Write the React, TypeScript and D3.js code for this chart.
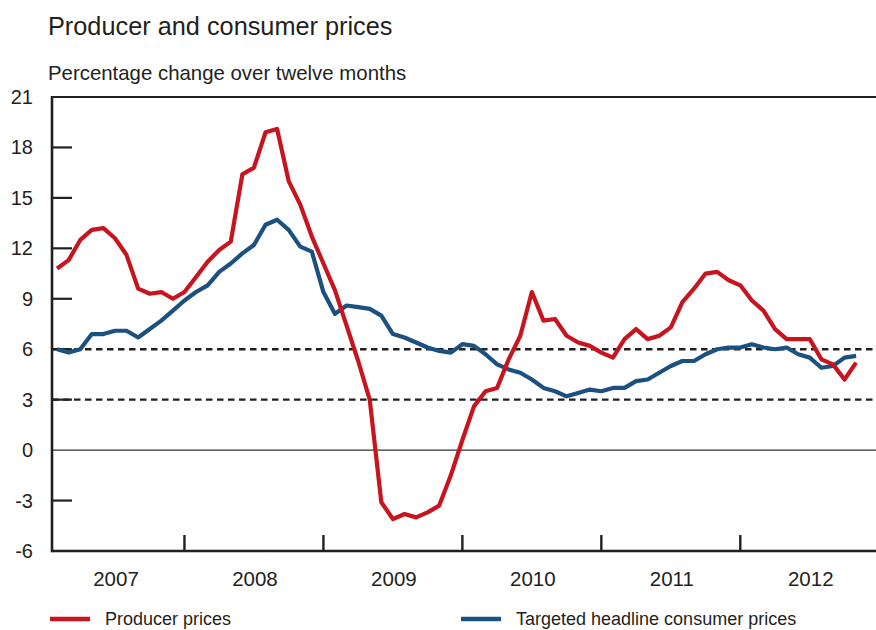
import React from "react";
import * as d3 from "d3";

const title = "Producer and consumer prices";
const subtitle = "Percentage change over twelve months";
const years = ["2007", "2008", "2009", "2010", "2011", "2012"];
const yTicks = [-6, -3, 0, 3, 6, 9, 12, 15, 18, 21];
const refLines = [3, 6];
const seriesNames = ["Producer prices", "Targeted headline consumer prices"];

// Monthly values, Jan 2007 - Oct 2012
const producerPrices = [
  10.8, 11.3, 12.5, 13.1, 13.2, 12.6, 11.6, 9.6, 9.3, 9.4, 9.0, 9.4,
  10.3, 11.2, 11.9, 12.4, 16.4, 16.8, 18.9, 19.1, 16.0, 14.6, 12.7, 11.1,
  9.5, 7.4, 5.3, 3.0, -3.1, -4.1, -3.8, -4.0, -3.7, -3.3, -1.5, 0.6,
  2.6, 3.5, 3.7, 5.4, 6.8, 9.4, 7.7, 7.8, 6.8, 6.4, 6.2, 5.8,
  5.5, 6.6, 7.2, 6.6, 6.8, 7.3, 8.8, 9.6, 10.5, 10.6, 10.1, 9.8,
  8.9, 8.3, 7.2, 6.6, 6.6, 6.6, 5.4, 5.1, 4.2, 5.2,
];
const consumerPrices = [
  6.0, 5.8, 6.0, 6.9, 6.9, 7.1, 7.1, 6.7, 7.2, 7.7, 8.3, 8.9,
  9.4, 9.8, 10.6, 11.1, 11.7, 12.2, 13.4, 13.7, 13.1, 12.1, 11.8, 9.4,
  8.1, 8.6, 8.5, 8.4, 8.0, 6.9, 6.7, 6.4, 6.1, 5.9, 5.8, 6.3,
  6.2, 5.7, 5.1, 4.8, 4.6, 4.2, 3.7, 3.5, 3.2, 3.4, 3.6, 3.5,
  3.7, 3.7, 4.1, 4.2, 4.6, 5.0, 5.3, 5.3, 5.7, 6.0, 6.1, 6.1,
  6.3, 6.1, 6.0, 6.1, 5.7, 5.5, 4.9, 5.0, 5.5, 5.6,
];

const W = 876;
const H = 630;
const FONT = "'Liberation Sans', Arial, Helvetica, sans-serif";
const INK = "#231f20";
const RED = "#c8141e";
const BLUE = "#1b5180";

export default function App() {
  const axisLeft = 52;
  const top = 97;
  const bottom = 551;
  const x = d3.scaleLinear().domain([0, 72]).range([45.5, 45.5 + 72 * 11.58]);
  const y = d3.scaleLinear().domain([-6, 21]).range([bottom, top]);

  const line = d3
    .line<number>()
    .x((_, i) => x(i + 1))
    .y((d) => y(d));

  const yearBounds = d3.range(1, years.length).map((k) => k * 12);

  return (
    <svg
      width={W}
      height={H}
      style={{ position: "absolute", left: 0, top: 0, background: "#fff" }}
      fontFamily={FONT}
    >
      <text x={48} y={35} fontSize={25.3} fill={INK}>
        {title}
      </text>
      <text x={48} y={80} fontSize={20.4} fill={INK}>
        {subtitle}
      </text>

      {/* zero line */}
      <line x1={axisLeft} x2={W} y1={y(0)} y2={y(0)} stroke="#333" strokeWidth={1.3} />

      {/* y ticks */}
      {yTicks.map((t) => (
        <g key={t}>
          {t > -6 && t < 21 && t !== 0 && (
            <line x1={axisLeft} x2={axisLeft + 20} y1={y(t)} y2={y(t)} stroke={INK} strokeWidth={2.2} />
          )}
          <text
            x={33}
            y={y(t)}
            fontSize={20}
            fill={INK}
            textAnchor="end"
            dominantBaseline="central"
          >
            {t}
          </text>
        </g>
      ))}

      {/* dashed reference lines */}
      {refLines.map((r) => (
        <line
          key={r}
          x1={axisLeft}
          x2={W}
          y1={y(r)}
          y2={y(r)}
          stroke={INK}
          strokeWidth={2.4}
          strokeDasharray="6.5 4.5"
        />
      ))}

      {/* frame */}
      <line x1={axisLeft} x2={W} y1={top} y2={top} stroke={INK} strokeWidth={2.2} />
      <line x1={axisLeft} x2={W} y1={bottom} y2={bottom} stroke={INK} strokeWidth={2.6} />
      <line x1={axisLeft} x2={axisLeft} y1={top - 1} y2={bottom + 1.3} stroke={INK} strokeWidth={2.6} />

      {/* x ticks */}
      {yearBounds.map((b) => (
        <line key={b} x1={x(b)} x2={x(b)} y1={bottom} y2={bottom - 16} stroke={INK} strokeWidth={2.4} />
      ))}
      {years.map((yr, k) => (
        <text
          key={yr}
          x={x(k * 12 + 6) + 1}
          y={578}
          fontSize={20.5}
          fill={INK}
          textAnchor="middle"
          dominantBaseline="central"
        >
          {yr}
        </text>
      ))}

      {/* series */}
      <path d={line(consumerPrices) || ""} fill="none" stroke={BLUE} strokeWidth={4.2} strokeLinejoin="round" />
      <path d={line(producerPrices) || ""} fill="none" stroke={RED} strokeWidth={4.2} strokeLinejoin="round" />

      {/* legend */}
      <line x1={50} x2={90} y1={619} y2={619} stroke={RED} strokeWidth={4.5} />
      <text x={105} y={625} fontSize={18} fill={INK}>
        {seriesNames[0]}
      </text>
      <line x1={461} x2={501} y1={619} y2={619} stroke={BLUE} strokeWidth={4.5} />
      <text x={516} y={625} fontSize={18} fill={INK}>
        {seriesNames[1]}
      </text>
    </svg>
  );
}
